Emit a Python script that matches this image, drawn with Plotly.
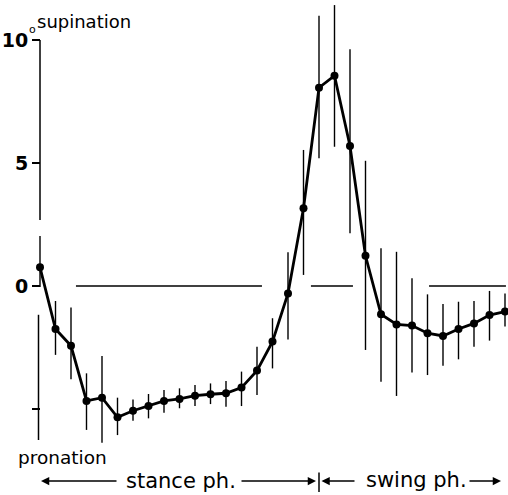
import plotly.graph_objects as go

# ---- data (degrees) ----
frame = list(range(31))
mean_angle = [0.76, -1.75, -2.43, -4.67, -4.54, -5.34, -5.07, -4.88, -4.67, -4.59,
              -4.46, -4.40, -4.36, -4.13, -3.44, -2.26, -0.30, 3.16, 8.06, 8.55,
              5.69, 1.23, -1.15, -1.56, -1.61, -1.92, -2.03, -1.75, -1.52, -1.18, -1.04]
upper_angle = [2.03, -0.61, -0.87, -3.55, -2.85, -4.54, -4.61, -4.39, -4.23, -4.16,
               -4.02, -3.96, -3.86, -3.48, -2.47, -1.31, 1.37, 5.53, 10.99, 11.42,
               9.62, 5.09, 1.53, 1.39, 0.31, -0.34, -0.73, -0.64, -0.61, -0.20, -0.30]
lower_angle = [-0.04, -2.80, -3.79, -5.85, -6.37, -6.06, -5.48, -5.38, -5.15, -4.97,
               -4.88, -4.80, -4.91, -4.88, -4.43, -3.35, -2.17, 0.45, 5.19, 5.66,
               2.14, -2.60, -3.89, -4.47, -3.52, -3.62, -3.24, -2.98, -2.47, -2.22, -1.65]
tick_values = [-5, 0, 5, 10]
tick_labels = ["", "<b>0</b>", "<b>5</b>", "<b>10</b>"]
phase_boundary = 18

# ---- layout geometry ----
W, H = 508, 495
X0PX, DXPX = 40.0, 15.5      # pixel of frame 0, pixels per frame
Y0PX, DYPX = 286.0, 24.6     # pixel of 0 deg, pixels per degree


def xd(px):
    return (px - X0PX) / DXPX


def yd(py):
    return (Y0PX - py) / DYPX


err_plus = [u - m for u, m in zip(upper_angle, mean_angle)]
err_minus = [m - l for m, l in zip(mean_angle, lower_angle)]

fig = go.Figure()
fig.add_trace(go.Scatter(
    x=frame, y=mean_angle, mode="lines+markers",
    line=dict(color="black", width=2.8),
    marker=dict(size=8, color="black"),
    error_y=dict(type="data", symmetric=False, array=err_plus, arrayminus=err_minus,
                 thickness=1.4, width=0, color="black"),
    cliponaxis=False, hoverinfo="skip",
))

shapes = []
# broken y axis line
for xx, a, b in [(0, 10, 2.68), (xd(38.5), -1.17, -6.26)]:
    shapes.append(dict(type="line", xref="x", yref="y", x0=xx, x1=xx, y0=a, y1=b,
                       line=dict(color="black", width=1.5)))
# broken zero reference line
for a, b in [(2.32, 14.32), (17.48, 20.19), (25.10, 30.06)]:
    shapes.append(dict(type="line", xref="x", yref="y", x0=a, x1=b, y0=0, y1=0,
                       line=dict(color="black", width=1.5)))
# stance / swing divider
shapes.append(dict(type="line", xref="x", yref="y", x0=phase_boundary, x1=phase_boundary,
                   y0=yd(472.5), y1=yd(492), line=dict(color="black", width=1.5)))

ann = []
FONT = "DejaVu Sans"


def text(s, px, py, size, bold=False):
    ann.append(dict(x=xd(px), y=yd(py), xref="x", yref="y", text=("<b>%s</b>" % s) if bold else s,
                    showarrow=False, xanchor="center", yanchor="middle",
                    font=dict(family=FONT, size=size, color="black")))


def arrow(tip_px, tail_px, py):
    ann.append(dict(x=xd(tip_px), y=yd(py), ax=xd(tail_px), ay=yd(py),
                    xref="x", yref="y", axref="x", ayref="y", text="",
                    showarrow=True, arrowhead=2, arrowsize=1.1, arrowwidth=1.5,
                    arrowcolor="black"))


text("supination", 84, 21, 18)
text("o", 32, 29, 11)
text("pronation", 62.5, 457, 18.5)
text("stance ph.", 180.5, 481, 21)
text("swing ph.", 416, 480, 21)
arrow(41, 118, 481)
arrow(316, 240, 481)
arrow(321.5, 356, 481)
arrow(501, 468, 481)

fig.update_layout(
    width=W, height=H, margin=dict(l=0, r=0, t=0, b=0),
    paper_bgcolor="white", plot_bgcolor="white", showlegend=False,
    xaxis=dict(range=[xd(0), xd(W)], visible=False),
    yaxis=dict(range=[yd(H), yd(0)], anchor="free", position=X0PX / W,
               showgrid=False, zeroline=False, showline=False,
               ticks="outside", ticklen=8, tickwidth=1.5, tickcolor="black",
               tickvals=tick_values, ticktext=tick_labels,
               ticklabelstandoff=0,
               tickfont=dict(family=FONT, size=19, color="black")),
    shapes=shapes, annotations=ann,
)

fig.write_html("out.html", config={"displayModeBar": False},
               post_script="document.body.style.margin='0';document.body.style.overflow='hidden';")
